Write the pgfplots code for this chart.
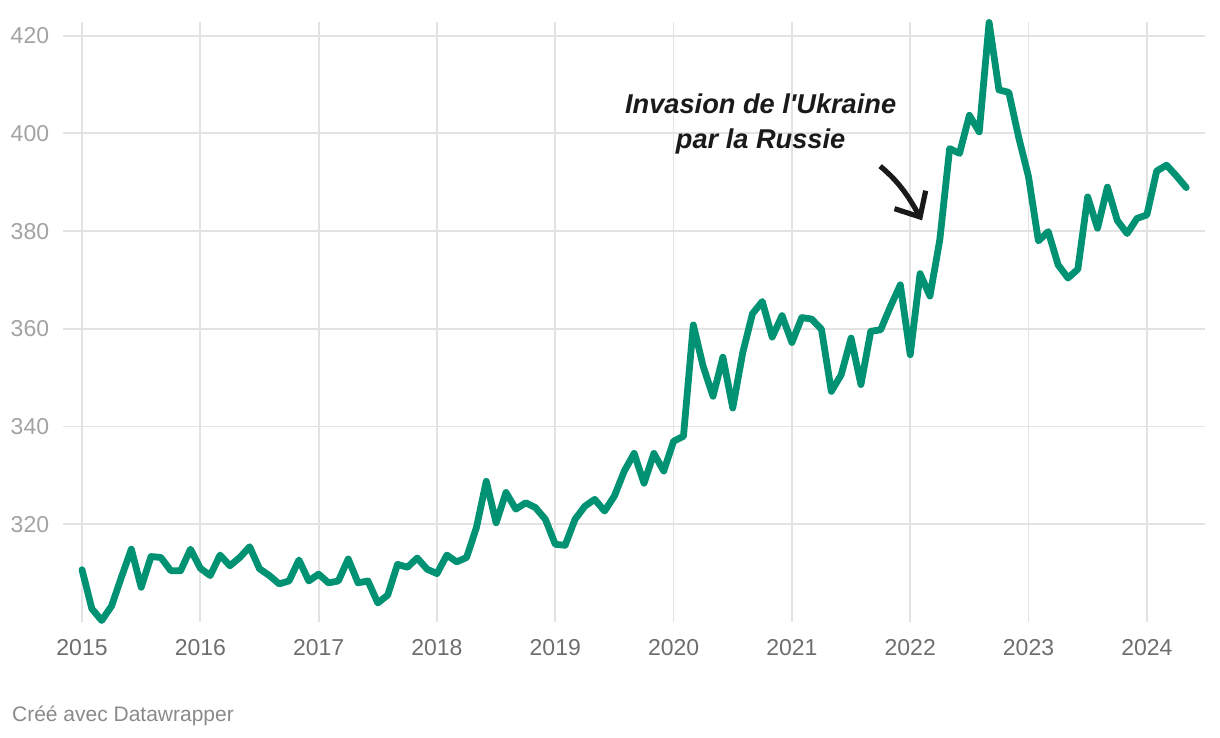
\documentclass[border=0pt]{standalone}
\usepackage{pgfplots}
\pgfplotsset{compat=1.18}
\usepackage{fontspec}
\setmainfont{Liberation Sans}
\usetikzlibrary{arrows.meta}
\definecolor{linegreen}{HTML}{009272}
\definecolor{gridgray}{HTML}{E3E3E3}
\definecolor{ylab}{HTML}{A3A3A3}
\definecolor{xlab}{HTML}{6E6E6E}
\definecolor{foot}{HTML}{8A8A8A}
\definecolor{annot}{HTML}{1A1A1A}
\begin{document}
\begin{tikzpicture}
\path[use as bounding box] (0,0) rectangle (610pt,369pt);
\begin{axis}[
  at={(31.5pt,58pt)}, anchor=south west,
  scale only axis, width=571pt, height=300pt,
  xmin=-1.93, xmax=113.9, ymin=300, ymax=422.8,
  clip=false,
  axis line style={draw=none},
  major tick length=0pt,
  xtick={0,12,24,36,48,60,72,84,96,108},
  xticklabels={2015,2016,2017,2018,2019,2020,2021,2022,2023,2024},
  ytick={320,340,360,380,400,420},
  grid=major,
  grid style={gridgray, line width=0.9pt},
  /pgf/number format/assume math mode=true,
  tick label style={font=\fontsize{11.5}{13}\selectfont},
  yticklabel style={text=ylab, anchor=east, inner sep=0pt, xshift=-6.75pt},
  xticklabel style={text=xlab, anchor=north, inner sep=0pt, yshift=-8.5pt},
]
\addplot[linegreen, line width=3.4pt, line join=round, line cap=round] table {
x y
0 310.7
1 302.7
2 300.3
3 303.3
4 309.2
5 314.9
6 307.1
7 313.4
8 313.2
9 310.5
10 310.5
11 314.9
12 311.0
13 309.5
14 313.7
15 311.5
16 313.2
17 315.4
18 310.9
19 309.5
20 307.8
21 308.4
22 312.7
23 308.4
24 309.8
25 308.0
26 308.4
27 312.9
28 308.0
29 308.4
30 303.9
31 305.5
32 311.8
33 311.2
34 313.1
35 310.8
36 309.9
37 313.7
38 312.3
39 313.2
40 319.3
41 328.8
42 320.3
43 326.5
44 323.1
45 324.4
46 323.4
47 321.0
48 315.9
49 315.7
50 321.0
51 323.7
52 325.1
53 322.7
54 325.8
55 330.9
56 334.5
57 328.4
58 334.5
59 330.9
60 337.0
61 338.0
62 360.8
63 352.3
64 346.2
65 354.2
66 343.8
67 355.0
68 363.1
69 365.6
70 358.3
71 362.7
72 357.2
73 362.3
74 362.0
75 359.9
76 347.2
77 350.6
78 358.1
79 348.6
80 359.5
81 359.8
82 364.6
83 369.0
84 354.7
85 371.3
86 366.7
87 378.2
88 396.9
89 395.9
90 403.7
91 400.3
92 422.7
93 408.9
94 408.4
95 399.2
96 391.1
97 378.0
98 379.9
99 373.1
100 370.4
101 372.2
102 387.0
103 380.6
104 389.0
105 382.2
106 379.5
107 382.6
108 383.3
109 392.3
110 393.5
111 391.3
112 388.9
};
\node[anchor=base, inner sep=0pt, font=\fontsize{13.6}{16}\selectfont\bfseries\itshape, text=annot] at (axis cs:68.83,404.08) {Invasion de l\textquotesingle Ukraine};
\node[anchor=base, inner sep=0pt, font=\fontsize{13.6}{16}\selectfont\bfseries\itshape, text=annot] at (axis cs:68.83,396.92) {par la Russie};
\draw[annot, line width=2.6pt, -{Straight Barb[length=10pt,width=18pt]}] (axis cs:80.95,393.3) to[out=-40,in=120] (axis cs:85.2,382.2);
\end{axis}
\node[anchor=base west, inner sep=0pt, font=\fontsize{10.5}{12}\selectfont, text=foot] at (5.85pt,8.25pt) {Créé avec Datawrapper};
\end{tikzpicture}
\end{document}
